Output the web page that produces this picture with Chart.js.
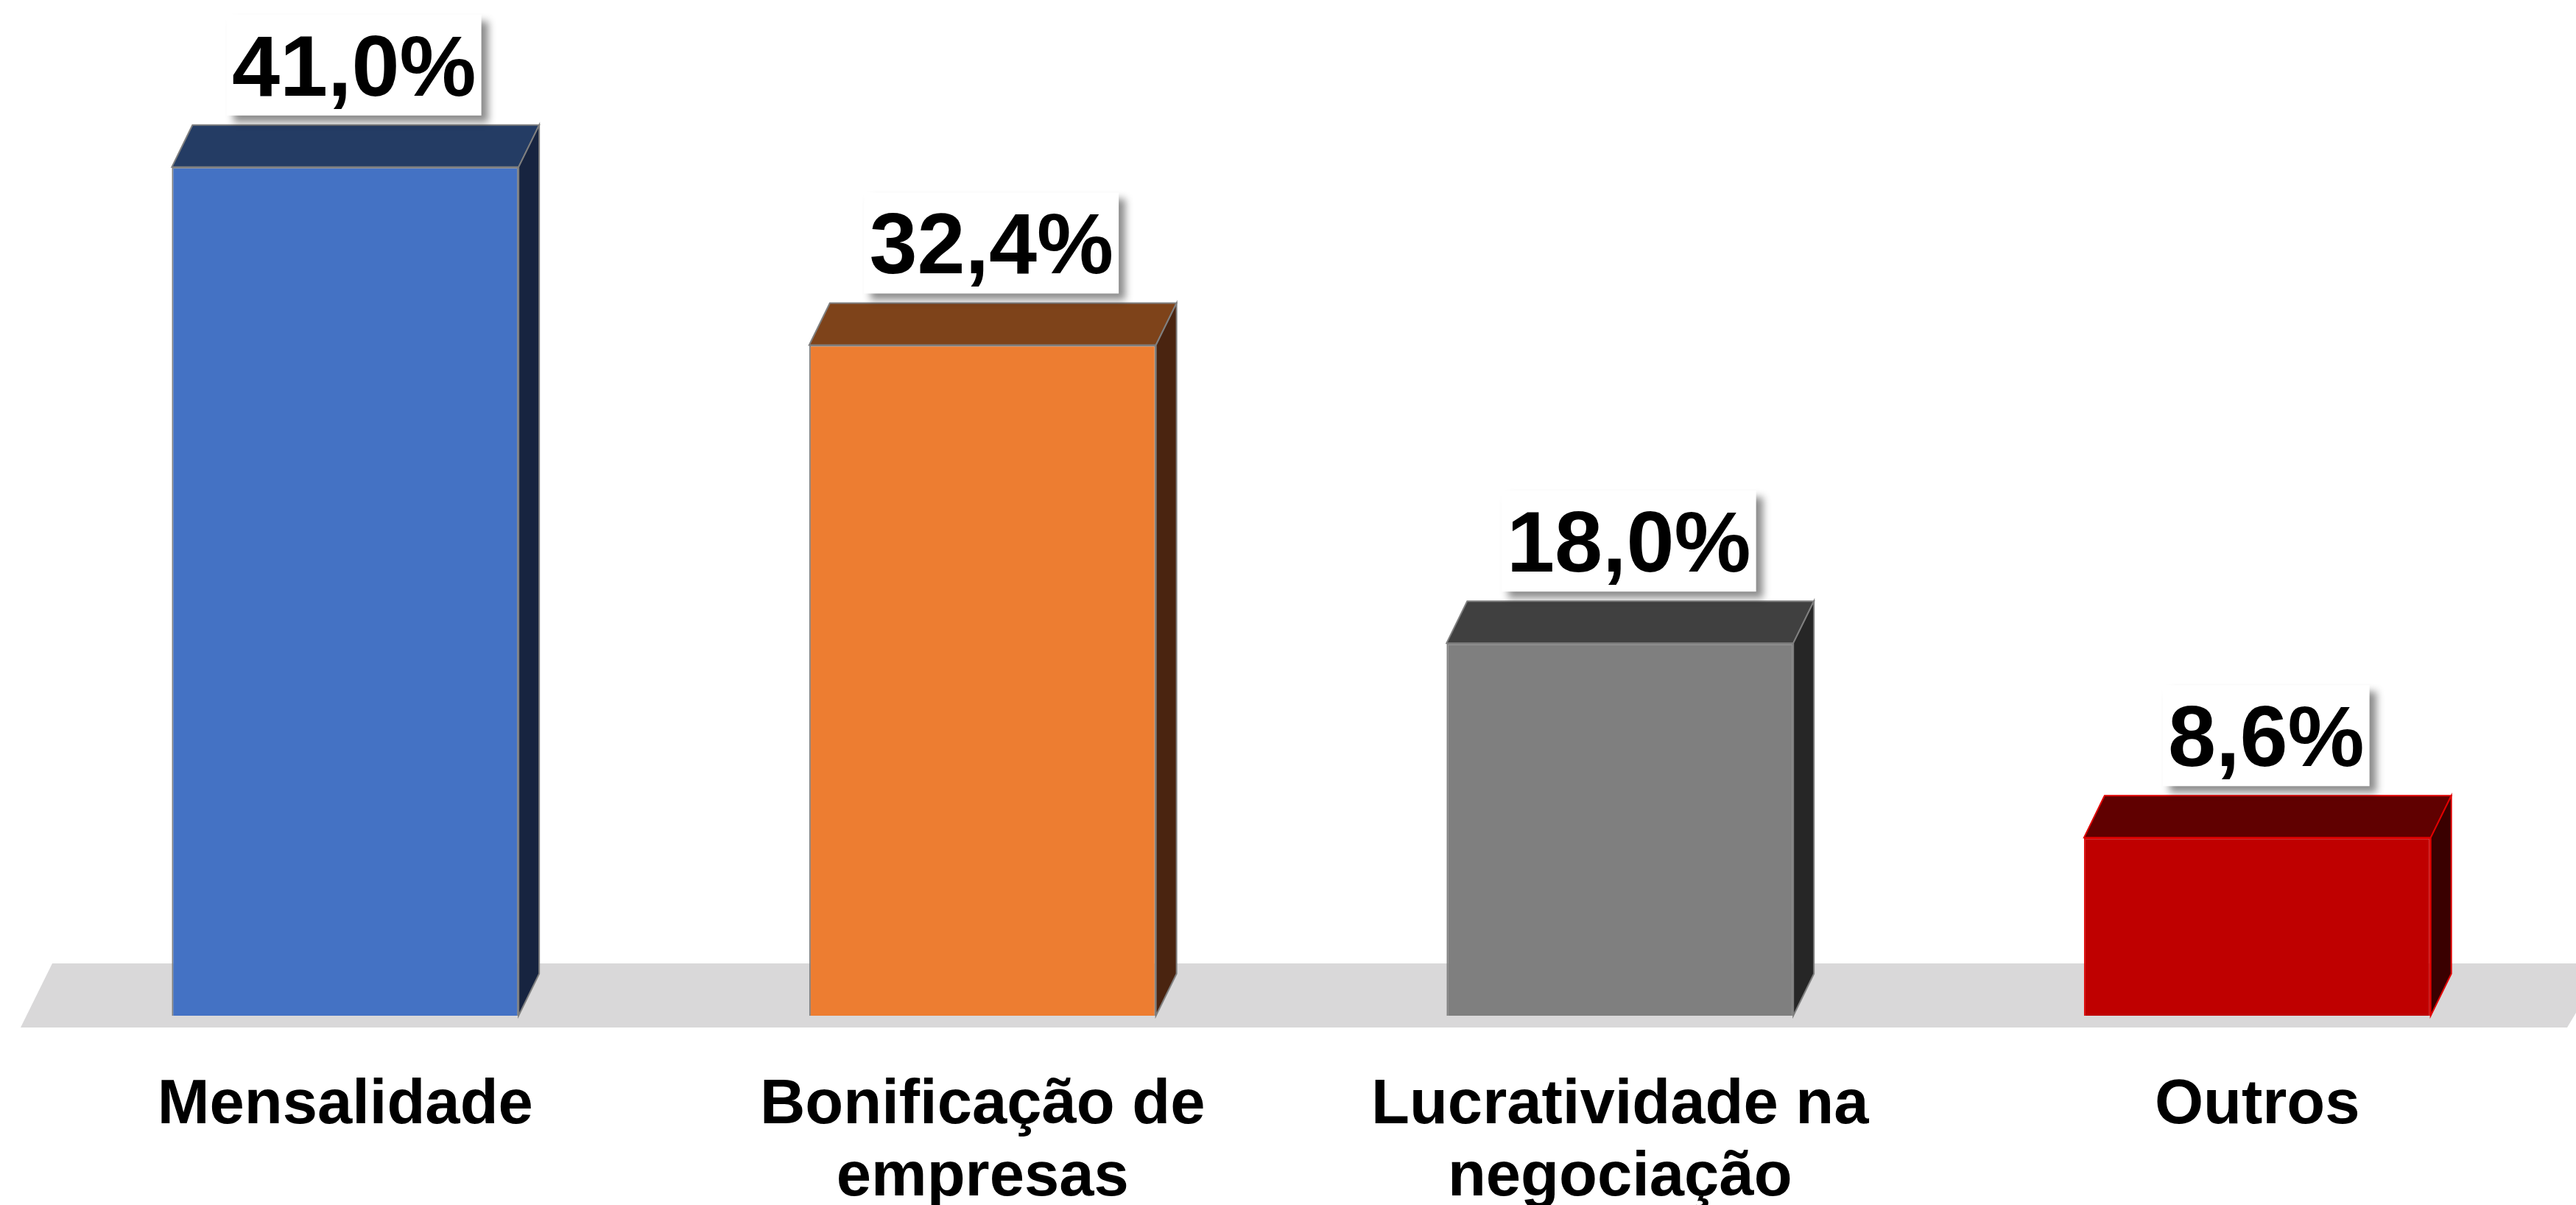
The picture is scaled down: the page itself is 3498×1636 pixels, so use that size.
<!DOCTYPE html>
<html>
<head>
<meta charset="utf-8">
<script src="https://cdn.jsdelivr.net/npm/chart.js@4.4.1/dist/chart.umd.min.js"></script>
<style>
  html, body { margin: 0; padding: 0; background: #fff; }
  canvas { display: block; }
</style>
</head>
<body>
<canvas id="chart" width="3498" height="1636"></canvas>
<script>
// data
const categories = [['Mensalidade'], ['Bonificação de', 'empresas'], ['Lucratividade na', 'negociação'], ['Outros']];
const values = [41.0, 32.4, 18.0, 8.6];

// face colours: front / top / side / edge
const frontColors = ['#4472c4', '#ed7d31', '#7f7f7f', '#bf0000'];
const topColors = ['#243c64', '#7e431a', '#404040', '#600000'];
const sideColors = ['#172440', '#4a2410', '#262626', '#3a0000'];
const edgeColors = ['#7f7f7f', '#7f7f7f', '#7f7f7f', '#e00000'];

const depthX = 28;
const depthY = 57;
const font = 'Liberation Sans, Arial, sans-serif';

const fmt = v => v.toFixed(1).replace('.', ',') + '%';

const bar3d = {
  id: 'bar3d',
  beforeDatasetsDraw(chart) {
    // grey floor the bars stand on
    const { ctx, chartArea } = chart;
    const base = chart.scales.y.getPixelForValue(0);
    ctx.save();
    ctx.fillStyle = '#d9d8d9';
    ctx.beginPath();
    ctx.moveTo(chartArea.left + 35, base - 71);
    ctx.lineTo(chart.width + 40, base - 71);
    ctx.lineTo(chart.width - 12, base + 16);
    ctx.lineTo(chartArea.left - 8, base + 16);
    ctx.closePath();
    ctx.fill();
    ctx.restore();
  },
  afterDatasetsDraw(chart) {
    const ctx = chart.ctx;
    const meta = chart.getDatasetMeta(0);
    ctx.save();
    ctx.lineWidth = 2;
    meta.data.forEach((bar, i) => {
      const left = bar.x - bar.width / 2;
      const right = bar.x + bar.width / 2;
      const top = bar.y;
      const bottom = bar.base;

      // top face
      ctx.fillStyle = topColors[i];
      ctx.strokeStyle = edgeColors[i];
      ctx.beginPath();
      ctx.moveTo(left, top);
      ctx.lineTo(left + depthX, top - depthY);
      ctx.lineTo(right + depthX, top - depthY);
      ctx.lineTo(right, top);
      ctx.closePath();
      ctx.fill();
      ctx.stroke();

      // side face
      ctx.fillStyle = sideColors[i];
      ctx.beginPath();
      ctx.moveTo(right, top);
      ctx.lineTo(right + depthX, top - depthY);
      ctx.lineTo(right + depthX, bottom - depthY);
      ctx.lineTo(right, bottom);
      ctx.closePath();
      ctx.fill();
      ctx.stroke();
    });

    // value labels in white boxes with a soft shadow
    ctx.font = 'bold 117px ' + font;
    ctx.textAlign = 'center';
    ctx.textBaseline = 'alphabetic';
    meta.data.forEach((bar, i) => {
      const text = fmt(values[i]);
      const w = ctx.measureText(text).width + 14;
      const cx = bar.x + 12;
      const boxBottom = bar.y - depthY - 13;
      const boxTop = boxBottom - 137;
      ctx.save();
      ctx.shadowColor = 'rgba(0,0,0,0.45)';
      ctx.shadowBlur = 10;
      ctx.shadowOffsetX = 9;
      ctx.shadowOffsetY = 9;
      ctx.fillStyle = '#ffffff';
      ctx.fillRect(cx - w / 2, boxTop, w, 137);
      ctx.restore();
      ctx.fillStyle = '#000000';
      ctx.fillText(text, cx, boxTop + 110);
    });
    ctx.restore();
  }
};

new Chart(document.getElementById('chart'), {
  type: 'bar',
  data: {
    labels: categories,
    datasets: [{
      data: values,
      backgroundColor: frontColors,
      borderColor: edgeColors,
      borderWidth: 2,
      categoryPercentage: 1,
      barPercentage: 0.544
    }]
  },
  options: {
    responsive: false,
    devicePixelRatio: 1,
    animation: false,
    layout: { padding: { left: 36, right: -3, top: 2, bottom: -79 } },
    plugins: {
      legend: { display: false },
      tooltip: { enabled: false }
    },
    scales: {
      x: {
        grid: { display: false },
        border: { display: false },
        ticks: {
          color: '#000',
          padding: 66,
          maxRotation: 0,
          autoSkip: false,
          font: { family: font, size: 85, weight: 'bold', lineHeight: 98 / 85 }
        }
      },
      y: {
        display: false,
        min: 0,
        max: 49
      }
    }
  },
  plugins: [bar3d]
});
</script>
</body>
</html>
